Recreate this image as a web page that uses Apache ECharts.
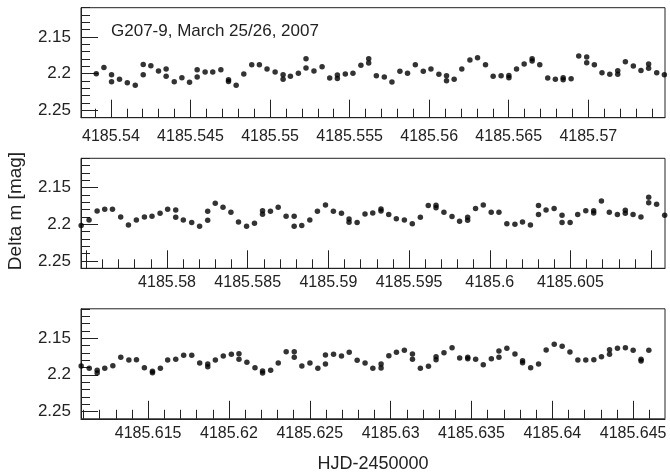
<!DOCTYPE html>
<html><head><meta charset="utf-8">
<script src="https://cdn.jsdelivr.net/npm/echarts@6/dist/echarts.min.js"></script>
<style>html,body{margin:0;padding:0;background:#fff}#c{width:670px;height:475px}</style>
</head><body><div id="c"></div>
<script>
// ---- data (HJD-2450000, Delta m) ----
const p1Time = [4185.53908,4185.53956,4185.54004,4185.54004,4185.54054,4185.54103,4185.54153,4185.54203,4185.54203,4185.54251,4185.54299,4185.54347,4185.54347,4185.54398,4185.54446,4185.54494,4185.54542,4185.54542,4185.54592,4185.54640,4185.54691,4185.54739,4185.54739,4185.54787,4185.54835,4185.54885,4185.54933,4185.54981,4185.55032,4185.55082,4185.55082,4185.55128,4185.55178,4185.55226,4185.55226,4185.55276,4185.55327,4185.55375,4185.55423,4185.55423,4185.55473,4185.55521,4185.55571,4185.55620,4185.55620,
4185.55668,4185.55718,4185.55766,4185.55816,4185.55864,4185.55913,4185.55963,4185.56011,4185.56061,4185.56109,4185.56109,4185.56157,4185.56205,4185.56256,4185.56304,4185.56354,4185.56402,4185.56452,4185.56501,4185.56501,4185.56549,4185.56597,4185.56647,4185.56647,4185.56695,4185.56745,4185.56793,4185.56842,4185.56842,4185.56892,4185.56940,4185.56990,4185.56990,4185.57038,4185.57086,4185.57135,4185.57185,4185.57185,4185.57233,4185.57283,4185.57331,4185.57379,4185.57379,4185.57430,4185.57478];
const p1Mag = [2.2000,2.1914,2.2014,2.2109,2.2077,2.2123,2.2159,2.1873,2.2014,2.1891,2.1964,2.1936,2.2036,2.2109,2.2055,2.2118,2.1945,2.2045,2.1977,2.1977,2.1945,2.2082,2.2105,2.2159,2.2005,2.1877,2.1877,2.1936,2.1977,2.2014,2.2077,2.2036,2.1995,2.1795,2.1923,2.1964,2.1905,2.2059,2.2018,2.2064,2.2005,2.1995,2.1886,2.1795,2.1855,
2.2027,2.2045,2.2114,2.1968,2.1995,2.1877,2.1968,2.1936,2.2009,2.2027,2.2095,2.2077,2.1936,2.1814,2.1782,2.1877,2.2036,2.2027,2.2023,2.2055,2.1936,2.1868,2.1795,2.1827,2.1877,2.2059,2.2077,2.2055,2.2082,2.2068,2.1759,2.1773,2.1850,2.1877,2.1986,2.2009,2.1959,2.2009,2.1836,2.1895,2.1955,2.1868,2.1927,2.1986,2.2014];

const p2Time = [4185.57468,4185.57517,4185.57567,4185.57614,4185.57662,4185.57713,4185.57761,4185.57810,4185.57860,4185.57907,4185.57957,4185.58004,4185.58054,4185.58054,4185.58101,4185.58153,4185.58202,4185.58252,4185.58252,4185.58299,4185.58347,4185.58396,4185.58443,4185.58493,4185.58542,4185.58592,4185.58592,4185.58641,4185.58689,4185.58738,4185.58788,4185.58788,4185.58835,4185.58885,4185.58932,4185.58982,4185.59031,4185.59081,4185.59128,4185.59128,4185.59178,4185.59227,4185.59275,
4185.59326,4185.59326,4185.59374,4185.59421,4185.59471,4185.59520,4185.59570,4185.59619,4185.59667,4185.59667,4185.59716,4185.59766,4185.59813,4185.59863,4185.59863,4185.59912,4185.59960,4185.60009,4185.60057,4185.60106,4185.60156,4185.60203,4185.60252,4185.60302,4185.60302,4185.60349,4185.60399,4185.60448,4185.60448,4185.60498,4185.60545,4185.60595,4185.60644,4185.60644,4185.60692,4185.60741,4185.60791,4185.60840,4185.60840,4185.60888,4185.60937,4185.60985,4185.60985,4185.61034,4185.61084];
const p2Mag = [2.2018,2.1941,2.1818,2.1795,2.1795,2.1900,2.2009,2.1941,2.1900,2.1891,2.1850,2.1795,2.1805,2.1905,2.1941,2.1977,2.2027,2.1823,2.1945,2.1714,2.1768,2.1836,2.1968,2.2027,2.1986,2.1814,2.1864,2.1823,2.1768,2.1891,2.1891,2.2027,2.2018,2.1941,2.1823,2.1736,2.1823,2.1850,2.1927,2.1973,2.1977,2.1859,2.1845,
2.1791,2.1818,2.1868,2.1923,2.1941,2.1991,2.1905,2.1745,2.1741,2.1773,2.1836,2.1895,2.1959,2.1905,2.1945,2.1786,2.1736,2.1836,2.1836,2.1991,2.2000,2.1968,2.2009,2.1745,2.1868,2.1805,2.1786,2.1877,2.1977,2.1977,2.1868,2.1814,2.1814,2.1845,2.1682,2.1836,2.1868,2.1809,2.1850,2.1868,2.1900,2.1632,2.1705,2.1727,2.1877];

const p3Time = [4185.61086,4185.61136,4185.61185,4185.61185,4185.61232,4185.61282,4185.61331,4185.61381,4185.61428,4185.61477,4185.61527,4185.61527,4185.61576,4185.61621,4185.61671,4185.61720,4185.61770,4185.61819,4185.61869,4185.61869,4185.61916,4185.61965,4185.62015,4185.62062,4185.62062,4185.62111,4185.62161,4185.62208,4185.62208,4185.62258,4185.62305,4185.62354,4185.62404,4185.62404,4185.62451,4185.62501,4185.62550,4185.62597,4185.62597,4185.62647,4185.62696,4185.62744,4185.62793,4185.62842,4185.62890,
4185.62941,4185.62941,4185.62989,4185.63036,4185.63085,4185.63135,4185.63135,4185.63184,4185.63234,4185.63281,4185.63281,4185.63330,4185.63380,4185.63427,4185.63477,4185.63477,4185.63526,4185.63573,4185.63623,4185.63670,4185.63670,4185.63719,4185.63769,4185.63816,4185.63816,4185.63866,4185.63915,4185.63962,4185.64012,4185.64061,4185.64109,4185.64158,4185.64207,4185.64257,4185.64304,4185.64354,4185.64354,4185.64403,4185.64452,4185.64500,4185.64549,4185.64549,4185.64597];
const p3Mag = [2.1880,2.1912,2.1939,2.1975,2.1912,2.1875,2.1762,2.1798,2.1794,2.1903,2.1953,2.1971,2.1912,2.1798,2.1789,2.1735,2.1735,2.1839,2.1853,2.1889,2.1798,2.1744,2.1721,2.1712,2.1789,2.1830,2.1903,2.1948,2.1975,2.1939,2.1839,2.1685,2.1685,2.1762,2.1880,2.1839,2.1912,2.1730,2.1853,2.1721,2.1744,2.1694,2.1803,2.1839,2.1912,
2.1853,2.1907,2.1739,2.1694,2.1666,2.1716,2.1789,2.1912,2.1885,2.1753,2.1794,2.1698,2.1630,2.1771,2.1762,2.1780,2.1789,2.1862,2.1780,2.1675,2.1762,2.1639,2.1716,2.1807,2.1835,2.1903,2.1853,2.1662,2.1585,2.1612,2.1689,2.1798,2.1798,2.1794,2.1753,2.1657,2.1721,2.1639,2.1630,2.1666,2.1789,2.1812,2.1666];

// axis ranges and tick labels
const xRanges = [[4185.53812, 4185.57482], [4185.57467, 4185.61086], [4185.61085, 4185.64697]];
const xLabels = [
  [4185.54, 4185.545, 4185.55, 4185.555, 4185.56, 4185.565, 4185.57],
  [4185.58, 4185.585, 4185.59, 4185.595, 4185.6, 4185.605],
  [4185.615, 4185.62, 4185.625, 4185.63, 4185.635, 4185.64, 4185.645]
];
const xMajorTicks = [
  [4185.54, 4185.545, 4185.55, 4185.555, 4185.56, 4185.565, 4185.57],
  [4185.575, 4185.58, 4185.585, 4185.59, 4185.595, 4185.6, 4185.605, 4185.61],
  [4185.615, 4185.62, 4185.625, 4185.63, 4185.635, 4185.64, 4185.645]
];
const magRange = [2.11, 2.26];
const magLabels = [2.15, 2.2, 2.25];
const magMinorTicks = [2.11, 2.12, 2.13, 2.14, 2.15, 2.16, 2.17, 2.18, 2.19, 2.2, 2.21, 2.22, 2.23, 2.24, 2.25, 2.26];

const panels = [[p1Time, p1Mag], [p2Time, p2Mag], [p3Time, p3Mag]];
const gridTops = [7.7, 158.3, 308.8];
const labelMargins = [11, 6, 7];

const FONT = '"Liberation Sans", Arial, Helvetica, sans-serif';
const INK = '#222';
const fmt = v => String(+(+v).toFixed(3));

function minorX(r) {
  const out = [];
  for (let k = Math.ceil(r[0] * 1000); k <= Math.floor(r[1] * 1000); k++) out.push(k / 1000);
  return out;
}

const grid = [], xAxis = [], yAxis = [], series = [];
panels.forEach((p, i) => {
  grid.push({left: 81, right: 5, top: gridTops[i], height: 110, show: true,
             borderColor: INK, borderWidth: 1, backgroundColor: 'transparent'});
  const r = xRanges[i];
  xAxis.push({type: 'value', gridIndex: i, min: r[0], max: r[1], position: 'bottom',
    axisLine: {show: true, onZero: false, lineStyle: {color: INK, width: 1}},
    axisTick: {show: true, inside: true, length: 18, customValues: xMajorTicks[i], lineStyle: {color: INK}},
    axisLabel: {show: true, customValues: xLabels[i], formatter: fmt, margin: labelMargins[i],
                color: INK, fontSize: 16, fontFamily: FONT},
    splitLine: {show: false}});
  xAxis.push({type: 'value', gridIndex: i, min: r[0], max: r[1], position: 'bottom',
    axisLine: {show: false, onZero: false},
    axisTick: {show: true, inside: true, length: 9, customValues: minorX(r), lineStyle: {color: INK}},
    axisLabel: {show: false, customValues: []},
    splitLine: {show: false}});
  yAxis.push({type: 'value', gridIndex: i, min: magRange[0], max: magRange[1], inverse: true, position: 'left',
    axisLine: {show: true, onZero: false, lineStyle: {color: INK, width: 1}},
    axisTick: {show: true, inside: true, length: 17, customValues: magLabels, lineStyle: {color: INK}},
    axisLabel: {show: true, customValues: magLabels, formatter: fmt, margin: 10,
                color: INK, fontSize: 17, fontFamily: FONT},
    splitLine: {show: false}});
  yAxis.push({type: 'value', gridIndex: i, min: magRange[0], max: magRange[1], inverse: true, position: 'left', offset: 0,
    axisLine: {show: false, onZero: false},
    axisTick: {show: true, inside: true, length: 9, customValues: magMinorTicks, lineStyle: {color: INK}},
    axisLabel: {show: false, customValues: []},
    splitLine: {show: false}});
  series.push({type: 'scatter', xAxisIndex: 2 * i, yAxisIndex: 2 * i,
    data: p[0].map((t, j) => [t, p[1][j]]),
    symbol: 'circle', symbolSize: 5.5, itemStyle: {color: '#000'}, silent: true, animation: false});
});

const chart = echarts.init(document.getElementById('c'), null, {renderer: 'canvas'});
chart.setOption({
  animation: false,
  backgroundColor: '#fff',
  grid, xAxis, yAxis, series,
  graphic: [
    {type: 'text', x: 111, y: 31, style: {text: 'G207-9, March 25/26, 2007', font: '17px ' + FONT, fill: INK, verticalAlign: 'middle'}},
    {type: 'text', x: 16, y: 211, rotation: Math.PI / 2,
     style: {text: 'Delta m [mag]', font: '19px ' + FONT, fill: INK, align: 'center', verticalAlign: 'middle'}},
    {type: 'text', x: 373, y: 464,
     style: {text: 'HJD-2450000', font: '18px ' + FONT, fill: INK, align: 'center', verticalAlign: 'middle'}}
  ]
});
</script></body></html>
